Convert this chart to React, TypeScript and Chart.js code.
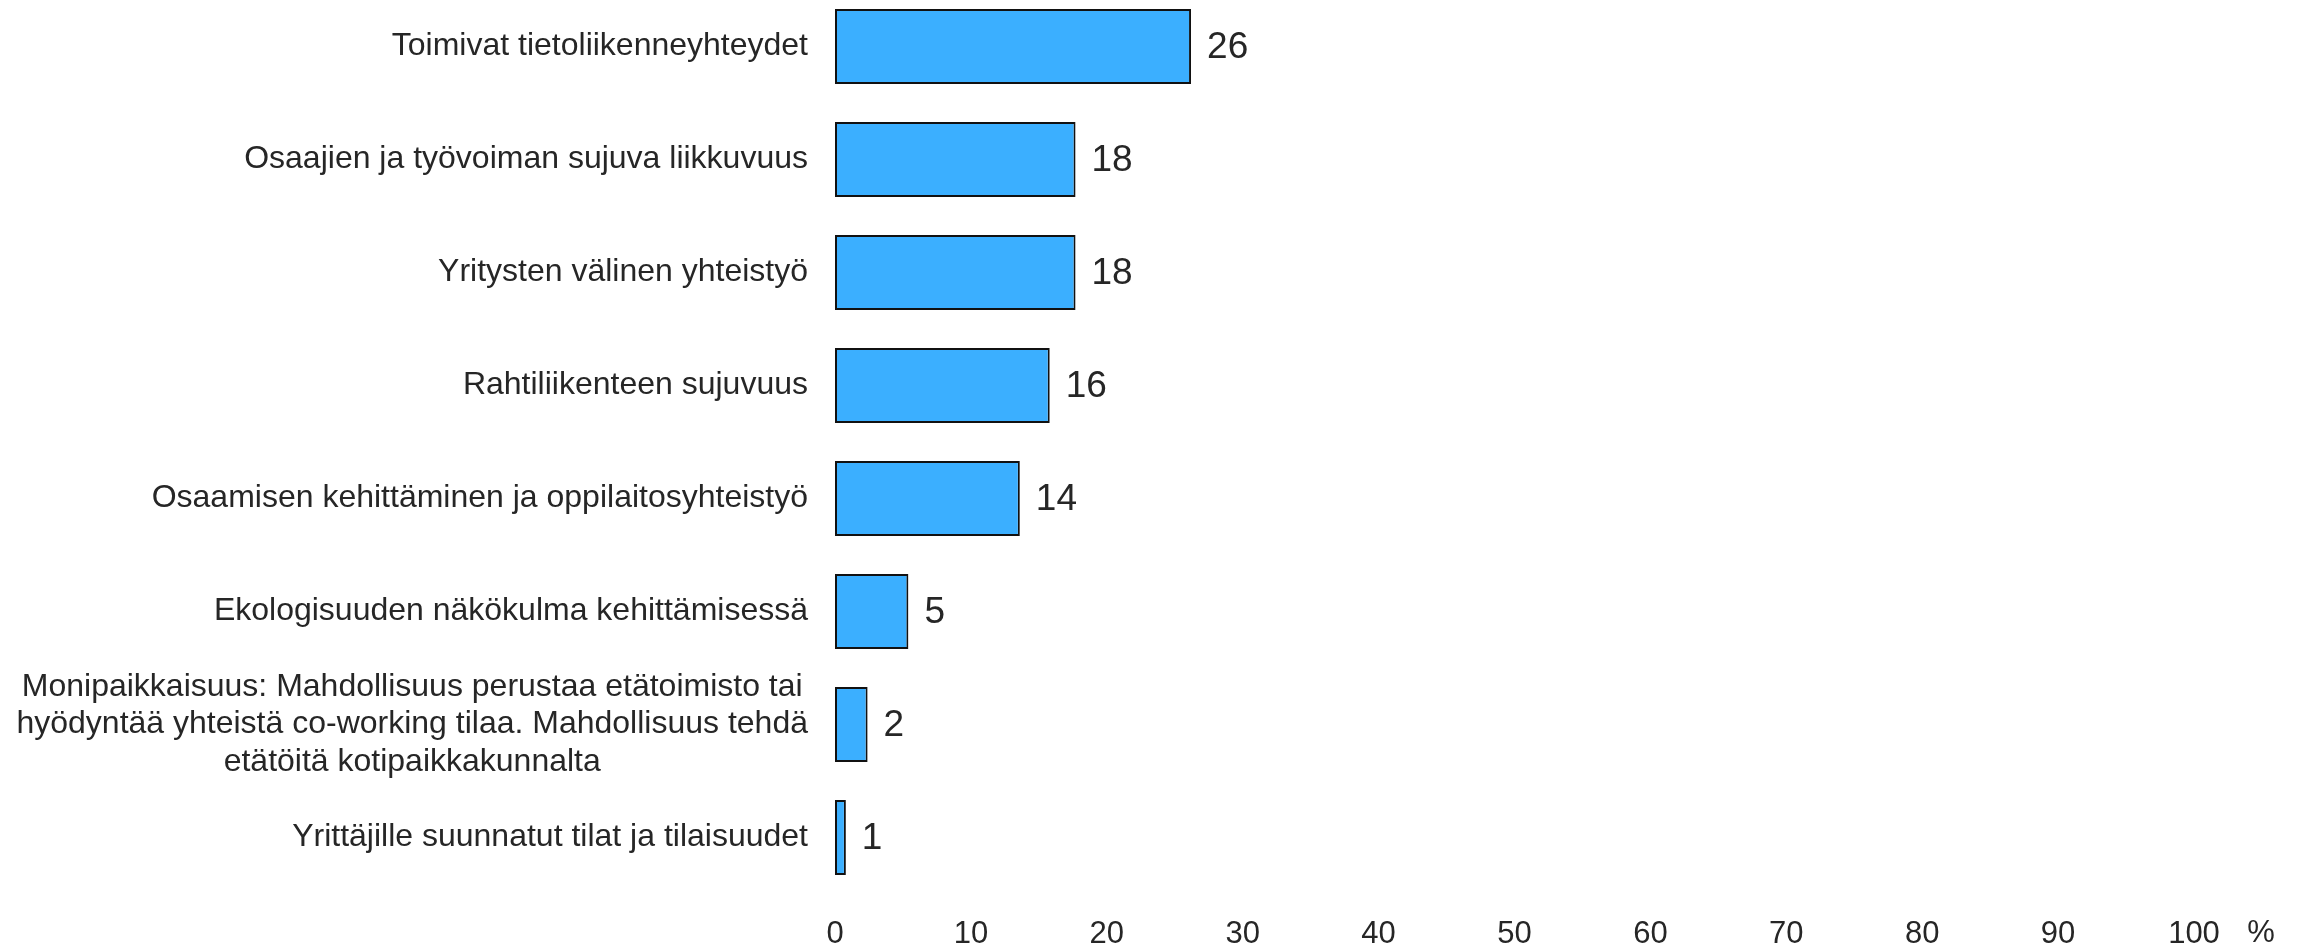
import React, { useEffect, useRef } from "react";
import { Chart, registerables } from "chart.js";

Chart.register(...registerables);

const categories: string[][] = [
  ["Toimivat tietoliikenneyhteydet"],
  ["Osaajien ja työvoiman sujuva liikkuvuus"],
  ["Yritysten välinen yhteistyö"],
  ["Rahtiliikenteen sujuvuus"],
  ["Osaamisen kehittäminen ja oppilaitosyhteistyö"],
  ["Ekologisuuden näkökulma kehittämisessä"],
  [
    "Monipaikkaisuus: Mahdollisuus perustaa etätoimisto tai",
    "hyödyntää yhteistä co-working tilaa. Mahdollisuus tehdä",
    "etätöitä kotipaikkakunnalta",
  ],
  ["Yrittäjille suunnatut tilat ja tilaisuudet"],
];

const values: number[] = [26.2, 17.7, 17.7, 15.8, 13.6, 5.4, 2.4, 0.8];

const xTicks: number[] = [0, 10, 20, 30, 40, 50, 60, 70, 80, 90, 100];
const unitLabel = "%";

const FONT = "'Liberation Sans', Arial, sans-serif";
const TEXT = "#262626";

const labelsPlugin = {
  id: "customLabels",
  afterDraw(chart: any) {
    const ctx = chart.ctx;
    const area = chart.chartArea;
    const yScale = chart.scales.y;
    const xScale = chart.scales.x;
    ctx.save();
    // category labels: centred block, right edge near axis
    ctx.font = `32px ${FONT}`;
    ctx.fillStyle = TEXT;
    ctx.textBaseline = "middle";
    ctx.textAlign = "center";
    const lh = 37.5;
    categories.forEach((lines, i) => {
      const yc = yScale.getPixelForValue(i);
      const maxW = Math.max(...lines.map((l) => ctx.measureText(l).width));
      const cx = area.left - 27 - maxW / 2;
      const top = yc - ((lines.length - 1) * lh) / 2;
      lines.forEach((l, j) => ctx.fillText(l, cx, top + j * lh));
    });
    // value labels
    ctx.font = `37px ${FONT}`;
    ctx.textAlign = "left";
    const meta = chart.getDatasetMeta(0);
    meta.data.forEach((bar: any, i: number) => {
      ctx.fillText(String(Math.round(values[i])), bar.x + 16, bar.y + 1);
    });
    // unit sign
    ctx.font = `31px ${FONT}`;
    ctx.textAlign = "center";
    const lastTick = xScale.getPixelForValue(xTicks[xTicks.length - 1]);
    ctx.fillText(unitLabel, lastTick + 67, area.bottom + 39);
    ctx.restore();
  },
};

export default function App() {
  const ref = useRef<HTMLCanvasElement>(null);
  useEffect(() => {
    if (!ref.current) return;
    const chart = new Chart(ref.current, {
      type: "bar",
      data: {
        labels: categories.map((c) => c.join(" ")),
        datasets: [
          {
            data: values,
            backgroundColor: "#3BAFFF",
            borderColor: "#111111",
            borderWidth: 2,
            borderSkipped: false,
            barPercentage: 0.664,
            categoryPercentage: 1,
          },
        ],
      },
      options: {
        indexAxis: "y",
        responsive: false,
        animation: false,
        devicePixelRatio: 1,
        layout: { padding: { left: 835, right: 111, top: 0, bottom: 0 } },
        plugins: { legend: { display: false }, tooltip: { enabled: false } },
        scales: {
          y: { display: false },
          x: {
            min: 0,
            max: 100,
            afterBuildTicks: (s: any) => {
              s.ticks = xTicks.map((v) => ({ value: v }));
            },
            afterFit: (s: any) => {
              s.height = 56;
            },
            grid: { display: false, drawTicks: false },
            border: { display: false },
            ticks: {
              padding: 22,
              color: TEXT,
              font: { family: FONT, size: 31 },
              maxRotation: 0,
            },
          },
        },
      },
      plugins: [labelsPlugin],
    });
    return () => chart.destroy();
  }, []);
  return (
    <canvas
      ref={ref}
      width={2305}
      height={960}
      style={{ position: "absolute", top: -10, left: 0, width: 2305, height: 960 }}
    />
  );
}
